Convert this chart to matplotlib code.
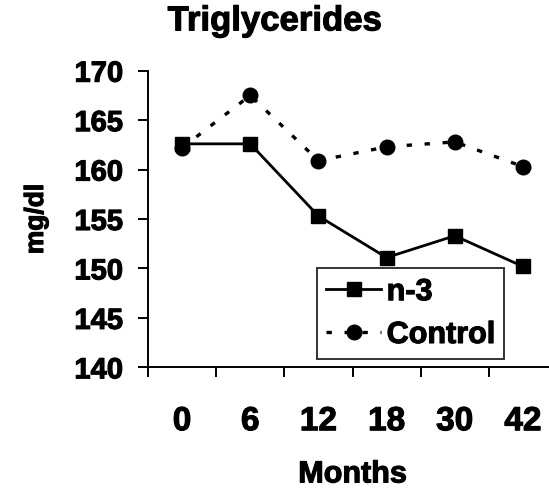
import matplotlib
matplotlib.use("Agg")
import matplotlib.pyplot as plt
import matplotlib.patheffects as pe
import numpy as np

months = ["0", "6", "12", "18", "30", "42"]
n3 = [162.6, 162.6, 155.3, 151.1, 153.3, 150.2]
control = [162.2, 167.5, 160.9, 162.3, 162.8, 160.3]

plt.rcParams['font.family'] = ['Liberation Sans', 'DejaVu Sans']
plt.rcParams['font.weight'] = 'bold'

# thicken the glyphs a little, the original uses a heavy face
heavy = [pe.withStroke(linewidth=0.8, foreground='black')]

fig = plt.figure(figsize=(5.49, 4.89), dpi=100)
# right edge of the axes runs past the figure, as in the cropped original
ax = fig.add_axes([0.2696, 0.2468, 0.745, 0.6066])

x = np.arange(len(months))
ax.plot(x, n3, color='black', lw=2, marker='s', ms=10, label='n-3')
ax.plot(x, control, color='black', lw=2.4, ls=(0, (1.6, 3.8)), marker='o', ms=10.5,
        label='Control')

ax.set_xlim(-0.5, len(months) - 0.5)
ax.set_ylim(140, 170)
ax.set_yticks(np.arange(140, 171, 5))
ax.set_xticks(x)
ax.set_xticklabels(months)
ax.set_xticks(np.arange(-0.5, len(months), 1), minor=True)

ax.tick_params(axis='x', which='major', length=0, pad=28, labelsize=24)
ax.tick_params(axis='x', which='minor', length=7, width=1.4, direction='out')
ax.tick_params(axis='y', length=7, width=1.4, pad=11, labelsize=21)

for side in ['top', 'right']:
    ax.spines[side].set_visible(False)
for side in ['left', 'bottom']:
    ax.spines[side].set_linewidth(1.4)

title = ax.set_title("Triglycerides", fontsize=25, fontweight='bold', pad=29, x=0.31)
xl = ax.set_xlabel("Months", fontsize=22, fontweight='bold', labelpad=16)
yl = ax.set_ylabel("mg/dl", fontsize=19, fontweight='bold', labelpad=19)

leg = ax.legend(loc='upper left', bbox_to_anchor=(0.5774, 0.4499),
                bbox_transform=fig.transFigure, fontsize=22,
                frameon=True, fancybox=False, edgecolor='black',
                handlelength=1.8, handletextpad=0.18, borderpad=0.3,
                labelspacing=0.42, borderaxespad=0)
leg.get_frame().set_linewidth(1.4)

for t in [title, xl, yl] + ax.get_xticklabels() + ax.get_yticklabels() + leg.get_texts():
    t.set_path_effects(heavy)

fig.savefig("out.png", dpi=100)
